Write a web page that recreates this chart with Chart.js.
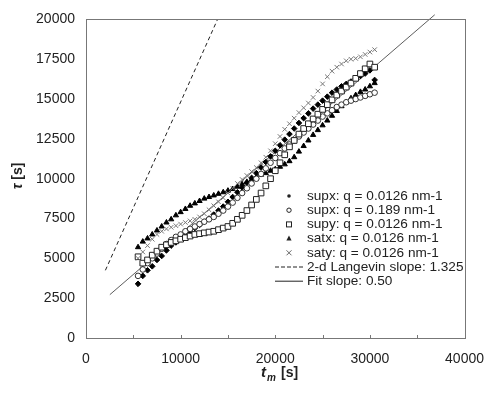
<!DOCTYPE html>
<html lang="en">
<head>
  <meta charset="UTF-8">
  <script src="https://cdn.jsdelivr.net/npm/chart.js"></script>
  <title>tau vs tm</title>
  <style>
    body { margin: 0; background: #fff; }
    #box { width: 497px; height: 394px; }
  </style>
</head>
<body>
  <div id="box"><canvas id="grafico" width="497" height="394"></canvas></div>
<script>
  // tempos de medida (s)
  const tempos = [5500, 6000, 6500, 7000, 7500, 8000, 8500, 9000, 9500, 10000,
    10500, 11000, 11500, 12000, 12500, 13000, 13500, 14000, 14500, 15000,
    15500, 16000, 16500, 17000, 17500, 18000, 18500, 19000, 19500, 20000,
    20500, 21000, 21500, 22000, 22500, 23000, 23500, 24000, 24500, 25000,
    25500, 26000, 26500, 27000, 27500, 28000, 28500, 29000, 29500, 30000, 30500];

  const supxQ1 = [3400, 3900, 4250, 4500, 4900, 5150, 5500, 5800, 6000, 6250,
    6500, 6700, 6900, 7100, 7300, 7500, 7750, 8000, 8250, 8550,
    8850, 9150, 9450, 9750, 10050, 10350, 10700, 11050, 11400, 11750,
    12100, 12450, 12800, 13150, 13500, 13800, 14100, 14400, 14650, 14900,
    15150, 15400, 15600, 15800, 15950, 16100, 16300, 16450, 16600, 16800, 16200];

  const supxQ2 = [3900, 4300, 4700, 5000, 5300, 5600, 5900, 6150, 6350, 6500,
    6700, 6850, 7000, 7150, 7300, 7450, 7600, 7800, 8000, 8250,
    8500, 8800, 9100, 9400, 9700, 10000, 10300, 10650, 11000, 11300,
    11600, 11900, 12150, 12400, 12650, 12900, 13150, 13400, 13650, 13900,
    14100, 14300, 14500, 14650, 14800, 14900, 15000, 15100, 15200, 15300, 15400];

  const supyQ1 = [5100, 4700, 4900, 5200, 5450, 5700, 5850, 6000, 6100, 6200,
    6300, 6400, 6500, 6550, 6600, 6650, 6700, 6800, 6900, 7000,
    7200, 7450, 7700, 8000, 8350, 8700, 9100, 9550, 10000, 10500,
    11000, 11500, 12000, 12400, 12800, 13150, 13450, 13750, 14050, 14350,
    14650, 14950, 15250, 15500, 15750, 16000, 16300, 16600, 16900, 17200, 17000];

  const satxQ1 = [5700, 6050, 6250, 6500, 6750, 7000, 7250, 7450, 7700, 7900,
    8100, 8300, 8450, 8600, 8750, 8850, 8950, 9050, 9150, 9250,
    9350, 9500, 9650, 9800, 9950, 10100, 10250, 10350, 10500, 10600,
    10750, 10900, 11100, 11350, 11700, 12050, 12400, 12750, 13050, 13350,
    13650, 13950, 14250, 14550, 14800, 15050, 15250, 15450, 15600, 15800, 16000];

  const satyQ1 = [5000, 5400, 5800, 6200, 6500, 6700, 6850, 6950, 7050, 7150,
    7250, 7350, 7450, 7600, 7800, 8050, 8300, 8550, 8800, 9100,
    9400, 9700, 9950, 10200, 10450, 10700, 11000, 11350, 11750, 12200,
    12650, 13100, 13450, 13800, 14150, 14450, 14750, 15100, 15500, 15950,
    16400, 16750, 17000, 17200, 17400, 17500, 17550, 17650, 17800, 17950, 18100];

  // retas: Langevin 2-d e ajuste
  const langevinX = [2050, 13900];
  const langevinY = [4250, 20000];
  const ajusteX = [2520, 36850];
  const ajusteY = [2720, 20290];

  const xTicks = [0, 10000, 20000, 30000, 40000];
  const yTicks = [0, 2500, 5000, 7500, 10000, 12500, 15000, 17500, 20000];

  const legenda = [
    { tipo: 'dot', texto: 'supx: q = 0.0126 nm-1' },
    { tipo: 'circle', texto: 'supx: q = 0.189 nm-1' },
    { tipo: 'square', texto: 'supy: q = 0.0126 nm-1' },
    { tipo: 'tri', texto: 'satx: q = 0.0126 nm-1' },
    { tipo: 'cross', texto: 'saty: q = 0.0126 nm-1' },
    { tipo: 'dash', texto: '2-d Langevin slope: 1.325' },
    { tipo: 'line', texto: 'Fit slope: 0.50' }
  ];

  function pontos(xs, ys) {
    return xs.map((v, i) => ({ x: v, y: ys[i] }));
  }

  const fonte = '"Liberation Sans", Arial, sans-serif';

  const extras = {
    id: 'extras',
    afterDraw(chart) {
      const ctx = chart.ctx;
      const a = chart.chartArea;
      const sx = chart.scales.x;
      ctx.save();
      // moldura
      ctx.strokeStyle = '#777';
      ctx.lineWidth = 1;
      ctx.strokeRect(Math.round(a.left) + 0.5, Math.round(a.top) + 0.5,
        Math.round(a.right - a.left), Math.round(a.bottom - a.top));
      // ticks internos no eixo x
      for (let v = 5000; v < 40000; v += 5000) {
        const px = Math.round(sx.getPixelForValue(v)) + 0.5;
        ctx.beginPath();
        ctx.moveTo(px, a.bottom);
        ctx.lineTo(px, a.bottom - 3);
        ctx.stroke();
      }

      // legenda
      ctx.fillStyle = '#222';
      ctx.font = '13.6px ' + fonte;
      ctx.textBaseline = 'middle';
      legenda.forEach((item, i) => {
        const y = 196 + i * 14.2;
        const mx = 289;
        ctx.strokeStyle = '#222';
        ctx.lineWidth = 1;
        ctx.beginPath();
        if (item.tipo === 'dot') {
          ctx.arc(mx, y, 1.8, 0, Math.PI * 2);
          ctx.fill();
        } else if (item.tipo === 'circle') {
          ctx.arc(mx, y, 2.2, 0, Math.PI * 2);
          ctx.stroke();
        } else if (item.tipo === 'square') {
          ctx.strokeRect(mx - 2.5, y - 2.5, 5, 5);
        } else if (item.tipo === 'tri') {
          ctx.moveTo(mx, y - 3);
          ctx.lineTo(mx + 2.6, y + 2);
          ctx.lineTo(mx - 2.6, y + 2);
          ctx.closePath();
          ctx.fill();
        } else if (item.tipo === 'cross') {
          ctx.strokeStyle = '#666';
          ctx.moveTo(mx - 2.5, y - 2.5); ctx.lineTo(mx + 2.5, y + 2.5);
          ctx.moveTo(mx + 2.5, y - 2.5); ctx.lineTo(mx - 2.5, y + 2.5);
          ctx.stroke();
        } else {
          if (item.tipo === 'dash') ctx.setLineDash([4, 2]);
          ctx.moveTo(275, y);
          ctx.lineTo(303, y);
          ctx.stroke();
          ctx.setLineDash([]);
        }
        ctx.fillText(item.texto, 307, y);
      });

      // titulo eixo y
      ctx.save();
      ctx.translate(18, 176);
      ctx.rotate(-Math.PI / 2);
      ctx.font = 'bold italic 14px ' + fonte;
      const wTau = ctx.measureText('τ').width;
      ctx.font = 'bold 14px ' + fonte;
      const wS = ctx.measureText(' [s]').width;
      const x0 = -(wTau + wS) / 2;
      ctx.textAlign = 'left';
      ctx.font = 'bold italic 14px ' + fonte;
      ctx.fillText('τ', x0, 0);
      ctx.font = 'bold 14px ' + fonte;
      ctx.fillText(' [s]', x0 + wTau, 0);
      ctx.restore();

      // titulo eixo x: t_m [s]
      ctx.textAlign = 'left';
      ctx.textBaseline = 'alphabetic';
      ctx.font = 'bold italic 15px ' + fonte;
      ctx.fillText('t', 261, 377);
      ctx.font = 'bold italic 10px ' + fonte;
      ctx.fillText('m', 267, 381);
      ctx.font = 'bold 14px ' + fonte;
      ctx.fillText('[s]', 281, 377);
      ctx.restore();
    }
  };

  const ctx = document.getElementById('grafico');

  new Chart(ctx, {
    type: 'scatter',
    data: {
      datasets: [
        {
          label: 'saty: q = 0.0126 nm-1',
          data: pontos(tempos, satyQ1),
          pointStyle: 'crossRot', radius: 3.2, borderWidth: 1,
          borderColor: '#777', backgroundColor: '#777'
        },
        {
          label: 'supy: q = 0.0126 nm-1',
          data: pontos(tempos, supyQ1),
          pointStyle: 'rect', radius: 4, borderWidth: 1,
          borderColor: '#222', backgroundColor: '#fff'
        },
        {
          label: 'supx: q = 0.189 nm-1',
          data: pontos(tempos, supxQ2),
          pointStyle: 'circle', radius: 2.8, borderWidth: 1,
          borderColor: '#333', backgroundColor: '#fff'
        },
        {
          label: 'supx: q = 0.0126 nm-1',
          data: pontos(tempos, supxQ1),
          pointStyle: 'rectRot', radius: 2.8, borderWidth: 1,
          borderColor: '#000', backgroundColor: '#000'
        },
        {
          label: 'satx: q = 0.0126 nm-1',
          data: pontos(tempos, satxQ1),
          pointStyle: 'triangle', radius: 3, borderWidth: 1,
          borderColor: '#000', backgroundColor: '#000'
        },
        {
          label: '2-d Langevin slope: 1.325',
          data: pontos(langevinX, langevinY),
          showLine: true, pointRadius: 0, borderWidth: 1,
          borderColor: '#222', borderDash: [4, 3]
        },
        {
          label: 'Fit slope: 0.50',
          data: pontos(ajusteX, ajusteY),
          showLine: true, pointRadius: 0, borderWidth: 0.8,
          borderColor: '#333', clip: false
        }
      ]
    },
    options: {
      responsive: false,
      animation: false,
      layout: { padding: { top: 15, right: 20, left: 0, bottom: 0 } },
      plugins: {
        legend: { display: false },
        tooltip: { enabled: false }
      },
      scales: {
        x: {
          type: 'linear', min: 0, max: 40000,
          afterBuildTicks: s => { s.ticks = xTicks.map(v => ({ value: v })); },
          afterFit: s => { s.height = 56; },
          grid: { display: false, drawTicks: false },
          border: { display: false },
          ticks: {
            color: '#222', font: { size: 14, family: fonte }, padding: 13, maxRotation: 0,
            callback: v => String(v)
          }
        },
        y: {
          type: 'linear', min: 0, max: 20000,
          afterBuildTicks: s => { s.ticks = yTicks.map(v => ({ value: v })); },
          afterFit: s => { s.width = 86; },
          grid: { display: false, drawTicks: false },
          border: { display: false },
          ticks: {
            color: '#222', font: { size: 14, family: fonte }, padding: 11,
            callback: v => String(v)
          }
        }
      }
    },
    plugins: [extras]
  });
</script>
</body>
</html>
